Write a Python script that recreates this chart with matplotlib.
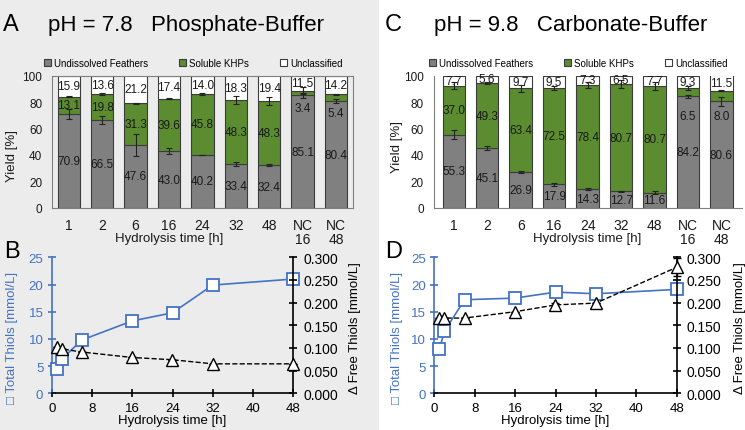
import matplotlib
matplotlib.use('Agg')
import matplotlib.pyplot as plt
import numpy as np
from matplotlib.patches import Rectangle

plt.rcParams['font.family'] = ['Liberation Sans', 'DejaVu Sans']

# ---------------- data ----------------
categories = ['1', '2', '6', '16', '24', '32', '48', 'NC\n16', 'NC\n48']

a_undissolved = [70.9, 66.5, 47.6, 43.0, 40.2, 33.4, 32.4, 85.1, 80.4]
a_soluble = [13.1, 19.8, 31.3, 39.6, 45.8, 48.3, 48.3, 3.4, 5.4]
a_unclassified = [15.9, 13.6, 21.2, 17.4, 14.0, 18.3, 19.4, 11.5, 14.2]
a_undissolved_err = [4.0, 3.0, 8.0, 2.0, 0.0, 1.5, 1.0, 2.0, 1.5]
a_soluble_err = [0.6, 0.8, 0.3, 0.6, 0.6, 3.0, 3.0, 2.5, 0.6]

c_undissolved = [55.3, 45.1, 26.9, 17.9, 14.3, 12.7, 11.6, 84.2, 80.6]
c_soluble = [37.0, 49.3, 63.4, 72.5, 78.4, 80.7, 80.7, 6.5, 8.0]
c_unclassified = [7.7, 5.6, 9.7, 9.5, 7.3, 6.5, 7.7, 9.3, 11.5]
c_undissolved_err = [3.5, 1.5, 0.8, 1.0, 1.0, 0.3, 1.2, 1.0, 3.5]
c_soluble_err = [2.5, 1.0, 2.5, 1.5, 2.5, 3.0, 3.0, 1.5, 0.5]

time_h = [1, 2, 6, 16, 24, 32, 48]
b_total = [4.5, 6.3, 9.8, 13.3, 14.8, 19.9, 21.0]
b_free = [0.102, 0.098, 0.091, 0.079, 0.074, 0.065, 0.065]
b_free_err = [0, 0, 0, 0, 0, 0, 0]
d_total = [8.1, 11.4, 17.2, 17.5, 18.6, 18.3, 19.1]
d_free = [0.166, 0.166, 0.166, 0.180, 0.195, 0.199, 0.278]
d_free_err = [0, 0, 0, 0, 0.004, 0, 0.02]

# ---------------- figure ----------------
W, H = 745, 431
fig = plt.figure(figsize=(W / 100, H / 100), dpi=100, facecolor='white')
fig.patches.append(Rectangle((0, 0), 379 / W, 1, transform=fig.transFigure,
                             facecolor='#ececec', edgecolor='none', zorder=-10))


def fx(px):
    return px / W


def fy(py):
    return 1 - py / H


def box(l, r, t, b):
    return [fx(l), fy(b), fx(r) - fx(l), fy(t) - fy(b)]


GRAY = '#808080'
GREEN = '#5b8c2f'
EDGE = '#3c3c3c'
BLUE = '#4472c4'


def bar_panel(ax, und, sol, unc, und_err, sol_err, xlab_idx, xlim, frame_all, small_shift):
    x = np.arange(len(categories))
    w = 0.67
    und = np.array(und)
    sol = np.array(sol)
    unc = np.array(unc)
    cum = und + sol
    ax.bar(x, und, w, color=GRAY, edgecolor=EDGE, lw=0.8, label='Undissolved Feathers', zorder=2)
    ax.bar(x, sol, w, bottom=und, color=GREEN, edgecolor=EDGE, lw=0.8, label='Soluble KHPs', zorder=2)
    ax.bar(x, unc, w, bottom=cum, color='white', edgecolor=EDGE, lw=0.8, label='Unclassified', zorder=2)
    ax.errorbar(x, und, yerr=und_err, fmt='none', ecolor='#222222', elinewidth=0.8, capsize=2, capthick=0.8, zorder=4)
    ax.errorbar(x, cum, yerr=sol_err, fmt='none', ecolor='#222222', elinewidth=0.8, capsize=2, capthick=0.8, zorder=4)
    for i in range(len(x)):
        ax.text(x[i], und[i] / 2, f'{und[i]:.1f}', ha='center', va='center', fontsize=8.5, color='#1a1a1a', zorder=5)
        sy = und[i] + sol[i] / 2 if sol[i] > 10 else und[i] - small_shift[i - 7]
        ax.text(x[i], sy, f'{sol[i]:.1f}', ha='center', va='center', fontsize=8.5, color='#1a1a1a', zorder=5)
        ax.text(x[i], min(cum[i] + unc[i] / 2, 100 - (100 - cum[i]) / 2), f'{unc[i]:.1f}', ha='center', va='center',
                fontsize=8.5, color='#1a1a1a', zorder=5)
    ax.set_ylim(0, 100)
    ax.set_xlim(*xlim)
    ax.set_yticks([0, 20, 40, 60, 80, 100])
    ax.set_xticks(x)
    ax.set_xticklabels(categories, linespacing=1.0)
    ax.tick_params(axis='x', length=0, pad=7, labelsize=10, colors='#1a1a1a')
    ax.tick_params(axis='y', length=0, pad=7, labelsize=8.5, colors='#1a1a1a')
    ax.set_facecolor('none')
    for s in ax.spines.values():
        s.set_color('#7f7f7f')
        s.set_linewidth(0.8)
    if not frame_all:
        ax.spines['top'].set_visible(False)
        ax.spines['right'].set_visible(False)
    ax.text(xlab_idx, -0.228, 'Hydrolysis time [h]', transform=ax.get_xaxis_transform(),
            ha='center', va='center', fontsize=9.5, color='#1a1a1a')
    ax.legend(ncol=3, loc='lower center', bbox_to_anchor=(0.47, 1.0), frameon=False, fontsize=7,
              handlelength=0.7, handleheight=0.7, handletextpad=0.3, columnspacing=3.2,
              borderaxespad=0.4)


def thiol_panel(ax, total, free, free_err):
    ax2 = ax.twinx()
    ax2.errorbar(time_h, free, yerr=free_err, color='black', lw=1, ls='--', marker='^', ms=8.5,
                 mfc='white', mec='black', mew=1, capsize=3, elinewidth=1, zorder=3, clip_on=False)
    ax.plot(time_h, total, color=BLUE, lw=1.2, marker='s', ms=8, mfc='white', mec=BLUE, mew=1.3, zorder=3,
            clip_on=False)
    ax.set_xlim(0, 48)
    ax.set_ylim(0, 25)
    ax2.set_ylim(0, 0.3)
    ax.set_xticks(range(0, 49, 8))
    ax.set_yticks(range(0, 26, 5))
    ax2.set_yticks(np.arange(0, 0.301, 0.05))
    ax2.set_yticklabels([f'{v:.3f}' for v in np.arange(0, 0.301, 0.05)])
    ax.set_facecolor('none')
    ax2.set_facecolor('none')
    for s in ['top', 'right']:
        ax.spines[s].set_visible(False)
    for s in ['top', 'left', 'bottom']:
        ax2.spines[s].set_visible(False)
    ax.spines['left'].set_color(BLUE)
    ax.spines['left'].set_linewidth(1.2)
    ax.spines['bottom'].set_color('black')
    ax.spines['bottom'].set_linewidth(1.2)
    ax2.spines['right'].set_color('black')
    ax2.spines['right'].set_linewidth(1.2)
    ax.tick_params(axis='y', direction='inout', length=6, width=1.2, colors=BLUE, labelsize=9.5, pad=3)
    ax.tick_params(axis='x', direction='inout', length=6, width=1.2, colors='black', labelsize=9.5, pad=3)
    ax2.tick_params(axis='y', direction='inout', length=6, width=1.2, colors='black', labelsize=10, pad=4)
    ax.set_xlabel('Hydrolysis time [h]', fontsize=9.5, labelpad=0.5)
    return ax2


# Panel A
axA = fig.add_axes(box(52, 352.7, 76.5, 209))
bar_panel(axA, a_undissolved, a_soluble, a_unclassified, a_undissolved_err, a_soluble_err, 3.0, (-0.5, 8.5), True,
          [9.5, 9.0])
# Panel C
axC = fig.add_axes(box(433.7, 741.5, 76.5, 209))
bar_panel(axC, c_undissolved, c_soluble, c_unclassified, c_undissolved_err, c_soluble_err, 4.0, (-0.6, 8.6), False,
          [15.0, 11.0])
# Panel B
axB = fig.add_axes(box(51.7, 293.3, 258.3, 394.3))
thiol_panel(axB, b_total, b_free, b_free_err)
# Panel D
axD = fig.add_axes(box(434.3, 676.7, 258.3, 394.3))
thiol_panel(axD, d_total, d_free, d_free_err)

# y labels
fig.text(fx(12), fy(156), 'Yield [%]', rotation=90, ha='center', va='center', fontsize=9.5, color='#1a1a1a')
fig.text(fx(397), fy(147), 'Yield [%]', rotation=90, ha='center', va='center', fontsize=9.5, color='#1a1a1a')
for xl, xr in [(12, 355), (397, 740)]:
    fig.text(fx(xl), fy(338), '□ Total Thiols [mmol/L]', rotation=90, ha='center', va='center',
             fontsize=9.5, color=BLUE)
    fig.text(fx(xr), fy(328), 'Δ Free Thiols [mmol/L]', rotation=90, ha='center', va='center',
             fontsize=9.5, color='black')

# panel letters & titles
fig.text(fx(3), fy(25), 'A', ha='left', va='center', fontsize=17)
fig.text(fx(48), fy(25), 'pH = 7.8   Phosphate-Buffer', ha='left', va='center', fontsize=16)
fig.text(fx(385), fy(25), 'C', ha='left', va='center', fontsize=17)
fig.text(fx(433.7), fy(25), 'pH = 9.8   Carbonate-Buffer', ha='left', va='center', fontsize=16)
fig.text(fx(4), fy(252), 'B', ha='left', va='center', fontsize=17)
fig.text(fx(385), fy(252), 'D', ha='left', va='center', fontsize=17)

fig.savefig('out.png', dpi=100, facecolor='white')
